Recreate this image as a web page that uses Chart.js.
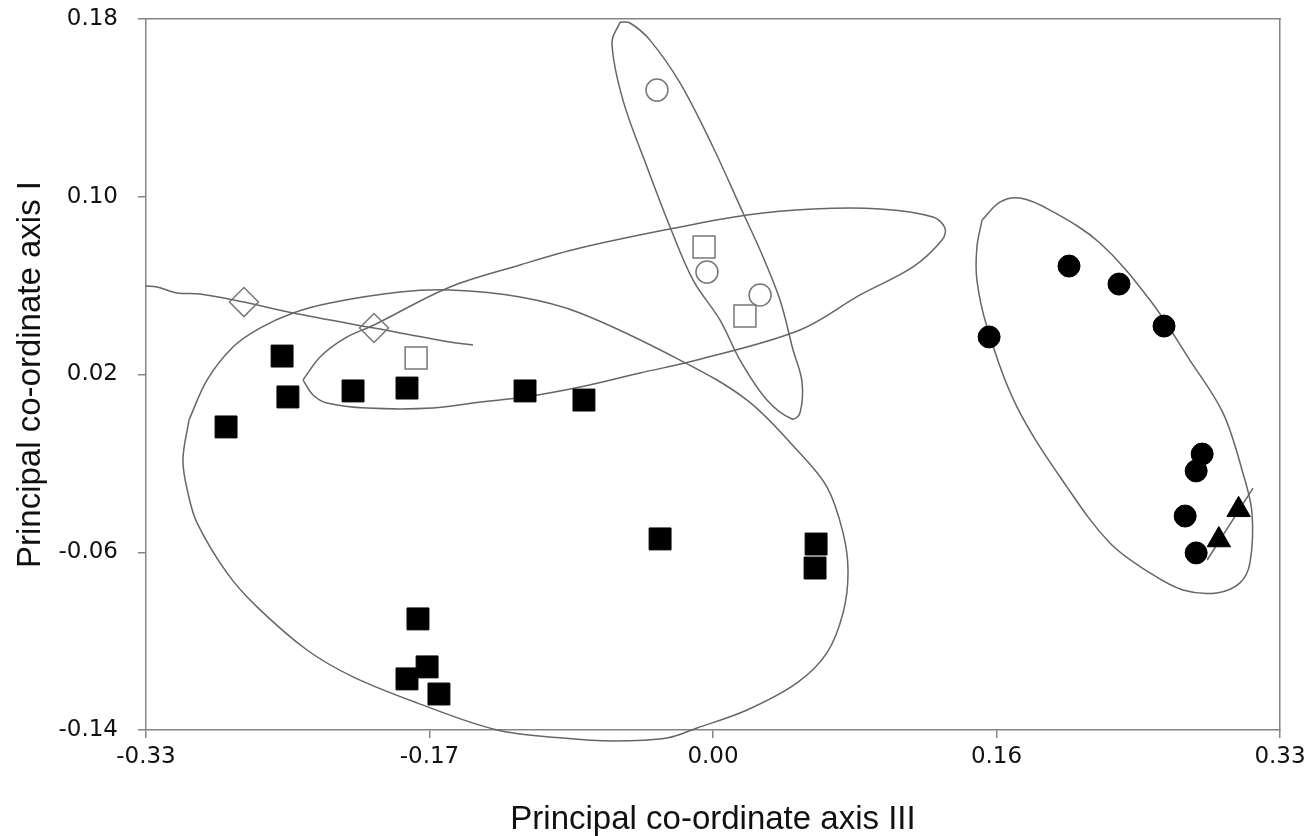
<!DOCTYPE html>
<html>
<head>
<meta charset="utf-8">
<script src="https://cdn.jsdelivr.net/npm/chart.js@4"></script>
<style>
  html, body { margin: 0; padding: 0; background: #fff; }
  #wrap { width: 1307px; height: 836px; position: relative; }
</style>
</head>
<body>
<div id="wrap"><canvas id="pcoChart"></canvas></div>
<script>
// axis ticks (positions evenly spaced, labels as printed)
const xTickValues = [-0.33, -0.165, 0, 0.165, 0.33];
const xTickLabels = ['-0.33', '-0.17', '0.00', '0.16', '0.33'];
const yTickValues = [-0.14, -0.06, 0.02, 0.10, 0.18];
const yTickLabels = ['-0.14', '-0.06', '0.02', '0.10', '0.18'];

// point groups [axis III, axis I]
const filledSquares = [
    [-0.2834, -0.0036], [-0.2508, 0.0283], [-0.2474, 0.0099], [-0.2095, 0.0126],
    [-0.1781, 0.0139], [-0.1094, 0.0126], [-0.0751, 0.0085], [-0.0308, -0.0540],
    [0.0600, -0.0563], [0.0594, -0.0671], [-0.1717, -0.0900], [-0.1664, -0.1116],
    [-0.1781, -0.1170], [-0.1595, -0.1238]
];
const openSquares = [[-0.1728, 0.0274], [-0.0052, 0.0774], [0.0186, 0.0463]];
const openCircles = [[-0.0326, 0.1480], [-0.0035, 0.0661], [0.0274, 0.0558]];
const openDiamonds = [[-0.2730, 0.0526], [-0.1973, 0.0409]];
const filledCircles = [
    [0.2072, 0.0688], [0.2363, 0.0607], [0.2625, 0.0418], [0.1607, 0.0369],
    [0.2847, -0.0158], [0.2812, -0.0234], [0.2748, -0.0437], [0.2812, -0.0603]
];
const filledTriangles = [[0.3059, -0.0409], [0.2944, -0.0545]];

// group outlines
const outlineSquares = [
    [-0.3050, -0.0005], [-0.2945, 0.0175], [-0.2794, 0.0324], [-0.2637, 0.0409],
    [-0.2444, 0.0477], [-0.2229, 0.0522], [-0.1822, 0.0571], [-0.1531, 0.0580],
    [-0.1123, 0.0549], [-0.0774, 0.0477], [-0.0192, 0.0265], [0.0198, 0.0085],
    [0.0489, -0.0140], [0.0663, -0.0306], [0.0757, -0.0513], [0.0786, -0.0689],
    [0.0757, -0.0873], [0.0663, -0.1053], [0.0489, -0.1188], [0.0198, -0.1310],
    [-0.0093, -0.1391], [-0.0268, -0.1436], [-0.0582, -0.1449], [-0.0873, -0.1436],
    [-0.1257, -0.1400], [-0.1723, -0.1278], [-0.2095, -0.1161], [-0.2363, -0.1040],
    [-0.2654, -0.0846], [-0.2829, -0.0693], [-0.3003, -0.0468], [-0.3056, -0.0333],
    [-0.3085, -0.0185], [-0.3050, -0.0005]
];
const outlineOpenSquares = [
    [-0.2386, 0.0175], [-0.2287, 0.0279], [-0.2142, 0.0364], [-0.1973, 0.0423],
    [-0.1531, 0.0594], [-0.1123, 0.0693], [-0.0774, 0.0769], [-0.0250, 0.0855],
    [0.0198, 0.0918], [0.0582, 0.0945], [0.0972, 0.0945], [0.1280, 0.0909],
    [0.1350, 0.0859], [0.1333, 0.0805], [0.1164, 0.0684], [0.0856, 0.0558],
    [0.0506, 0.0400], [-0.0093, 0.0265], [-0.0425, 0.0207], [-0.0774, 0.0144],
    [-0.1094, 0.0099], [-0.1356, 0.0076], [-0.1630, 0.0049], [-0.2014, 0.0049],
    [-0.2247, 0.0072], [-0.2328, 0.0108], [-0.2386, 0.0175]
];
const outlineOpenCircles = [
    [-0.0541, 0.1786], [-0.0588, 0.1692], [-0.0524, 0.1435], [-0.0384, 0.1134],
    [-0.0250, 0.0864], [-0.0116, 0.0625], [0.0041, 0.0445], [0.0157, 0.0265],
    [0.0314, 0.0085], [0.0460, 0.0000], [0.0506, 0.0027], [0.0518, 0.0167],
    [0.0466, 0.0310], [0.0390, 0.0535], [0.0274, 0.0760], [0.0175, 0.0927],
    [0.0000, 0.1224], [-0.0192, 0.1512], [-0.0367, 0.1705], [-0.0483, 0.1782],
    [-0.0541, 0.1786]
];
const outlineFilledCircles = [
    [0.1566, 0.0895], [0.1670, 0.0976], [0.1787, 0.0994], [0.1961, 0.0940],
    [0.2252, 0.0792], [0.2543, 0.0535], [0.2775, 0.0265], [0.2968, 0.0027],
    [0.3084, -0.0243], [0.3137, -0.0423], [0.3125, -0.0648], [0.3067, -0.0738],
    [0.2933, -0.0783], [0.2735, -0.0770], [0.2543, -0.0693], [0.2310, -0.0558],
    [0.2060, -0.0306], [0.1769, 0.0054], [0.1595, 0.0414], [0.1536, 0.0625],
    [0.1536, 0.0774], [0.1566, 0.0895]
];
const lineDiamonds = [
    [-0.3300, 0.0598], [-0.3236, 0.0594], [-0.3120, 0.0567], [-0.2986, 0.0562],
    [-0.2730, 0.0526], [-0.2444, 0.0477], [-0.1973, 0.0409], [-0.1531, 0.0346],
    [-0.1397, 0.0333]
];
const lineTriangles = [[0.2876, -0.0635], [0.3143, -0.0311]];

const toXY = arr => arr.map(p => ({ x: p[0], y: p[1] }));

const markerSet = (data, style, radius, fill, stroke, width) => ({
    type: 'scatter',
    data: toXY(data),
    pointStyle: style,
    pointRadius: radius,
    pointHoverRadius: radius,
    backgroundColor: fill,
    borderColor: stroke,
    borderWidth: width,
    showLine: false
});

const outlineSet = (data) => ({
    type: 'line',
    data: toXY(data),
    borderColor: '#666',
    borderWidth: 1.5,
    pointRadius: 0,
    tension: 0.35,
    fill: false,
    clip: false
});

const tickFont = { family: 'DejaVu Sans', size: 23 };
const titleFont = { family: 'Liberation Sans', size: 33, lineHeight: 1.0 };
const axisGrey = '#848484';

new Chart(document.getElementById('pcoChart'), {
    type: 'scatter',
    data: {
        datasets: [
            markerSet(filledSquares, 'rect', 15.5, '#000', '#000', 1),
            markerSet(filledCircles, 'circle', 11, '#000', '#000', 1),
            markerSet(filledTriangles, 'triangle', 13.5, '#000', '#000', 1),
            markerSet(openSquares, 'rect', 15.5, 'rgba(255,255,255,0)', '#777', 1.5),
            markerSet(openCircles, 'circle', 11, 'rgba(255,255,255,0)', '#777', 1.5),
            markerSet(openDiamonds, 'rectRot', 14.5, 'rgba(255,255,255,0)', '#777', 1.5),
            outlineSet(outlineSquares),
            outlineSet(outlineOpenSquares),
            outlineSet(outlineOpenCircles),
            outlineSet(outlineFilledCircles),
            outlineSet(lineDiamonds),
            outlineSet(lineTriangles)
        ]
    },
    options: {
        responsive: true,
        maintainAspectRatio: false,
        animation: false,
        layout: { padding: { top: 19, right: 27, left: 0, bottom: 0 } },
        plugins: {
            legend: { display: false },
            tooltip: { enabled: false }
        },
        scales: {
            x: {
                type: 'linear',
                position: 'bottom',
                min: -0.33,
                max: 0.33,
                afterBuildTicks: s => { s.ticks = xTickValues.map(v => ({ value: v })); },
                afterFit: s => { s.height = 106; s.paddingLeft = 0; s.paddingRight = 0; },
                ticks: {
                    callback: (v, i) => xTickLabels[i],
                    font: tickFont,
                    color: '#111',
                    padding: 5,
                    maxRotation: 0,
                    autoSkip: false
                },
                grid: { display: true, drawOnChartArea: false, drawTicks: true, tickLength: 8, color: axisGrey, lineWidth: 1.5 },
                border: { display: true, color: axisGrey, width: 1.5 },
                title: { display: true, text: 'Principal co-ordinate axis III', font: titleFont, color: '#111', padding: { top: 0, bottom: 0 } }
            },
            y: {
                type: 'linear',
                position: 'left',
                min: -0.14,
                max: 0.18,
                afterBuildTicks: s => { s.ticks = yTickValues.map(v => ({ value: v })); },
                afterFit: s => { s.width = 146; s.paddingTop = 0; s.paddingBottom = 0; },
                ticks: {
                    callback: (v, i) => yTickLabels[i],
                    font: tickFont,
                    color: '#111',
                    padding: 20,
                    autoSkip: false
                },
                grid: { display: true, drawOnChartArea: false, drawTicks: true, tickLength: 8, color: axisGrey, lineWidth: 1.5 },
                border: { display: true, color: axisGrey, width: 1.5 },
                title: { display: true, text: 'Principal co-ordinate axis I', font: titleFont, color: '#111', padding: { top: 14, bottom: 0 } }
            },
            x2: {
                type: 'linear',
                position: 'top',
                min: -0.33,
                max: 0.33,
                afterFit: s => { s.height = 0; s.paddingLeft = 0; s.paddingRight = 0; },
                ticks: { display: false },
                grid: { display: false },
                border: { display: true, color: axisGrey, width: 1.5 }
            },
            y2: {
                type: 'linear',
                position: 'right',
                min: -0.14,
                max: 0.18,
                afterFit: s => { s.width = 0; s.paddingTop = 0; s.paddingBottom = 0; },
                ticks: { display: false },
                grid: { display: false },
                border: { display: true, color: axisGrey, width: 1.5 }
            }
        }
    }
});
</script>
</body>
</html>
